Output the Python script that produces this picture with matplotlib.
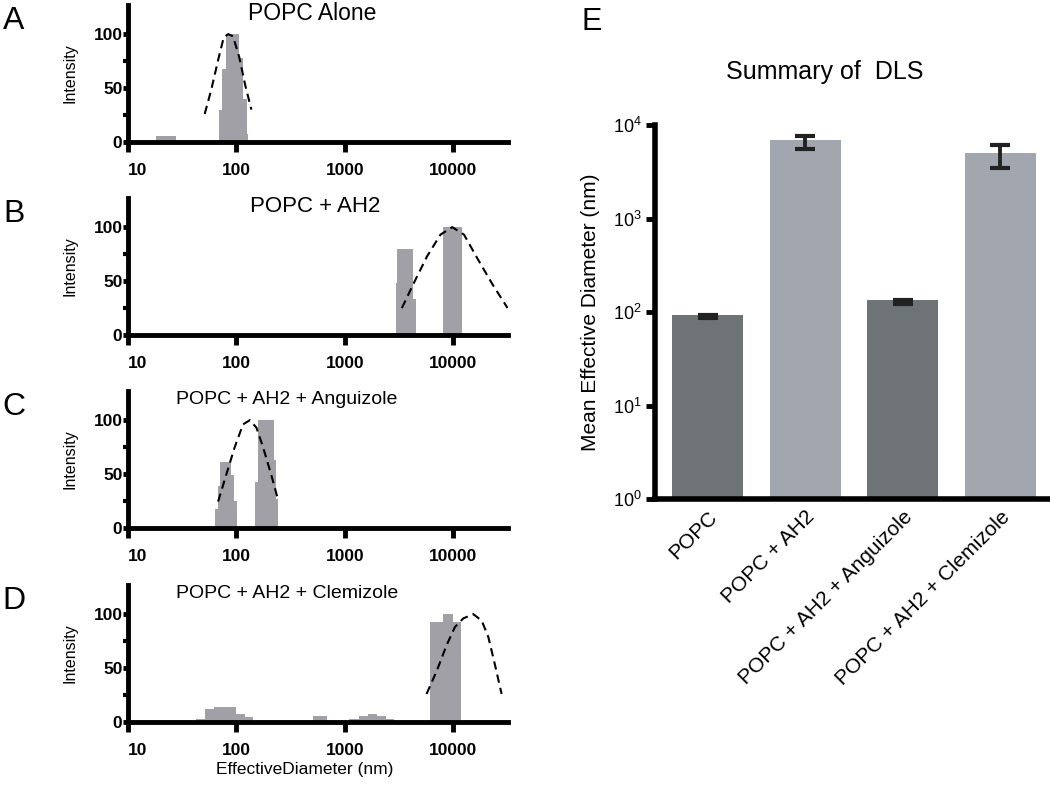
import numpy as np
import matplotlib.pyplot as plt
from matplotlib.ticker import FixedLocator, NullLocator, LogLocator, LogFormatterSciNotation

plt.rcParams['font.family'] = ['Liberation Sans', 'DejaVu Sans']
plt.rcParams['mathtext.fontset'] = 'custom'
plt.rcParams['mathtext.rm'] = 'Liberation Sans'
plt.rcParams['mathtext.it'] = 'Liberation Sans:italic'
plt.rcParams['mathtext.bf'] = 'Liberation Sans:bold'

# ---- datos de los histogramas DLS (A-D) ----
titles = ['POPC Alone', 'POPC + AH2', 'POPC + AH2 + Anguizole', 'POPC + AH2 + Clemizole']
letters = ['A', 'B', 'C', 'D']
title_x = [0.484, 0.492, 0.418, 0.418]
title_size = [16.5, 16, 14, 14]

popc_edges = [[18, 27.5], [69, 74, 81, 105, 115, 124, 128]]
popc_heights = [[6], [30, 68, 100, 78, 40, 7]]
popc_fit_x = [51, 58.8, 67.8, 76.4, 84, 93, 106, 121, 137.5]
popc_fit_y = [26, 49, 76, 97, 100, 98, 79, 52, 30]

ah2_edges = [[2950, 3055, 4295, 4570], [8130, 11940]]
ah2_heights = [[48, 80, 33], [100]]
ah2_fit_x = [3360, 4320, 5740, 7620, 9790, 12570, 16700, 23000, 31700]
ah2_fit_y = [25, 48, 73, 93, 100, 93, 71, 47, 25]

ang_edges = [[64, 67, 71, 89, 96, 101], [148, 159, 220, 230, 242]]
ang_heights = [[18, 39, 61, 49, 25], [43, 100, 63, 27]]
ang_fit_x = [67.8, 80.9, 96.5, 115, 133, 153, 176, 210, 242.5]
ang_fit_y = [24.5, 50, 75, 96, 100, 93, 75, 49, 26]

clem_edges = [[42, 51.5, 62, 100, 119, 143], [505, 690],
              [1100, 1340, 1630, 2000, 2420, 2850], [6090, 8090, 9860, 11770]]
clem_heights = [[3, 12.5, 14, 7.5, 5], [6], [3, 6, 7.5, 6, 3], [93, 100, 93]]
clem_fit_x = [5675, 7020, 8670, 10360, 12370, 15300, 18280, 21050, 24260, 27930]
clem_fit_y = [26, 47, 71, 88, 96, 100, 94, 79, 53, 26]

all_edges = [popc_edges, ah2_edges, ang_edges, clem_edges]
all_heights = [popc_heights, ah2_heights, ang_heights, clem_heights]
all_fit_x = [popc_fit_x, ah2_fit_x, ang_fit_x, clem_fit_x]
all_fit_y = [popc_fit_y, ah2_fit_y, ang_fit_y, clem_fit_y]

x_ticks = [10, 100, 1000, 10000]
x_ticklabels = ['10', '100', '1000', '10000']

# ---- datos del resumen (E) ----
groups = ['POPC', 'POPC + AH2', 'POPC + AH2 + Anguizole', 'POPC + AH2 + Clemizole']
mean_diam = [93, 6950, 135, 5080]
err_low = [6, 1430, 14, 1600]
err_high = [0, 730, 0, 1000]
bar_colors = ['#6e7476', '#a2a7af', '#6e7476', '#a2a7af']

hist_color = '#a0a0a6'
W, H = 1050, 786

fig = plt.figure(figsize=(10.5, 7.86), dpi=100)

bottoms_px = [142, 335, 528, 722]
for i in range(4):
    ax = fig.add_axes([128 / W, (H - bottoms_px[i]) / H, 380 / W, 137 / H])
    for edges, heights in zip(all_edges[i], all_heights[i]):
        edges = np.array(edges, dtype=float)
        ax.bar(edges[:-1], heights, width=np.diff(edges), align='edge',
               color=hist_color, edgecolor='none', zorder=1)
    ax.plot(all_fit_x[i], all_fit_y[i], color='black', lw=1.5,
            linestyle=(0, (4, 2.5)), zorder=2)
    ax.set_xscale('log')
    ax.set_xlim(10, 32000)
    ax.set_ylim(0, 127)
    ax.xaxis.set_major_locator(FixedLocator(x_ticks))
    ax.set_xticklabels(x_ticklabels)
    ax.xaxis.set_minor_locator(NullLocator())
    ax.set_yticks([0, 50, 100])
    ax.yaxis.set_minor_locator(FixedLocator([25, 75]))
    for s in ['top', 'right']:
        ax.spines[s].set_visible(False)
    for s in ['left', 'bottom']:
        ax.spines[s].set_linewidth(3.5)
    ax.tick_params(axis='x', which='major', length=7, width=3.5, pad=8,
                   labelsize=12.5)
    ax.tick_params(axis='y', which='major', length=3.5, width=3.5, pad=0.5,
                   labelsize=12.5)
    ax.tick_params(axis='y', which='minor', length=3.5, width=3)
    for lab in ax.get_xticklabels() + ax.get_yticklabels():
        lab.set_fontweight('bold')
    ax.get_xticklabels()[0].set_ha('left')
    ax.set_ylabel('Intensity', fontsize=11.5)
    ax.yaxis.set_label_coords(-0.132, 0.5)
    ax.text(title_x[i], 0.94, titles[i], transform=ax.transAxes,
            ha='center', va='center', fontsize=title_size[i])
    fig.text(14 / W, 1 - (bottoms_px[i] - 121) / H, letters[i],
             ha='center', va='center', fontsize=23)
    if i == 3:
        ax.text(0.466, -0.35, 'EffectiveDiameter (nm)', transform=ax.transAxes,
                ha='center', va='center', fontsize=12.5)

# ---- panel E ----
axe = fig.add_axes([655 / W, (H - 499) / H, 395 / W, 374 / H])
xpos = np.arange(len(groups))
axe.bar(xpos, mean_diam, width=0.73, color=bar_colors, edgecolor='none', zorder=1)
axe.errorbar(xpos, mean_diam, yerr=[err_low, err_high], fmt='none',
             ecolor='#222222', elinewidth=2.8, capsize=7.5, capthick=3, zorder=3)
axe.set_yscale('log')
axe.set_ylim(1, 1e4)
axe.set_xlim(-0.54, 3.51)
axe.yaxis.set_major_locator(LogLocator(base=10, numticks=10))
axe.yaxis.set_major_formatter(LogFormatterSciNotation())
axe.yaxis.set_minor_locator(NullLocator())
axe.set_xticks(xpos)
axe.set_xticklabels(groups, rotation=45, ha='right', rotation_mode='anchor',
                    fontsize=15)
for s in ['top', 'right']:
    axe.spines[s].set_visible(False)
for s in ['left', 'bottom']:
    axe.spines[s].set_linewidth(4)
axe.tick_params(axis='x', length=0, pad=6)
axe.tick_params(axis='y', length=6.5, width=3.5, pad=3, labelsize=13)
axe.set_ylabel('Mean Effective Diameter (nm)', fontsize=15)
axe.yaxis.set_label_coords(-0.139, 0.5)
fig.text(825 / W, 1 - 72 / H, 'Summary of  DLS', ha='center', va='center',
         fontsize=18)
fig.text(592 / W, 1 - 22 / H, 'E', ha='center', va='center', fontsize=22)

fig.savefig('out.png', dpi=100)
